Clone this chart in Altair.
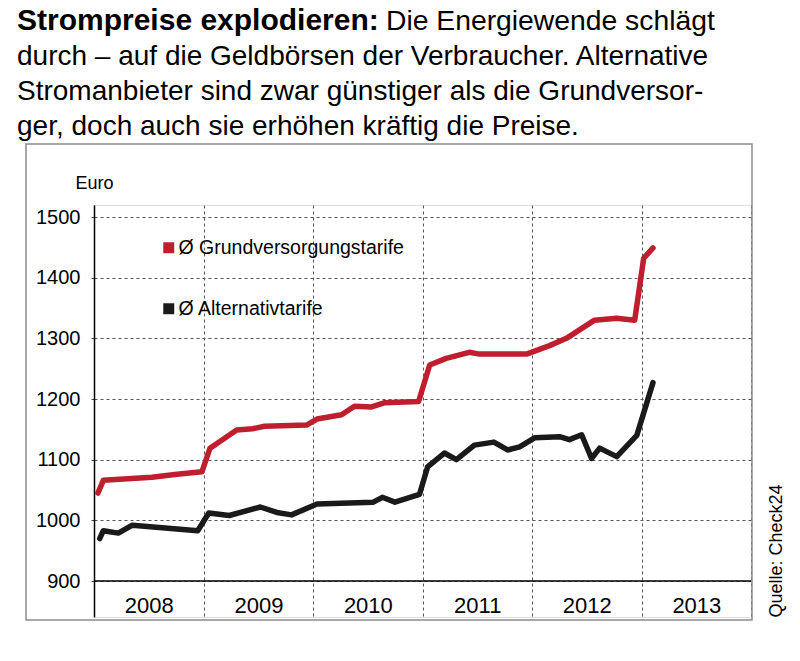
import altair as alt
import pandas as pd

# ---------------- data ----------------
series_names = ["Ø Grundversorgungstarife", "Ø Alternativtarife"]
series_colors = ["#BE1E2D", "#1A1A1A"]

grund_dates = [
    "2008-01-14", "2008-02-01", "2008-07-12", "2008-10-04", "2008-12-26",
    "2009-01-22", "2009-04-21", "2009-06-13", "2009-07-23", "2009-12-10",
    "2010-01-14", "2010-04-06", "2010-05-19", "2010-07-15", "2010-08-28",
    "2010-12-19", "2011-01-25", "2011-03-21", "2011-06-06", "2011-07-10",
    "2011-12-14", "2012-02-29", "2012-04-25", "2012-07-28", "2012-10-10",
    "2012-12-09", "2013-01-08", "2013-02-08",
]
grund_values = [
    1045, 1066, 1071, 1076, 1080,
    1119, 1149, 1151, 1155, 1157,
    1167, 1174, 1188, 1187, 1194,
    1196, 1256, 1267, 1277, 1274,
    1274, 1288, 1300, 1330, 1333,
    1330, 1432, 1449,
]

alt_dates = [
    "2008-01-20", "2008-02-01", "2008-03-22", "2008-05-08", "2008-12-12",
    "2009-01-18", "2009-03-27", "2009-07-09", "2009-09-02", "2009-10-21",
    "2010-01-14", "2010-07-21", "2010-08-20", "2010-10-01", "2010-12-22",
    "2011-01-18", "2011-03-15", "2011-04-24", "2011-06-23", "2011-08-27",
    "2011-10-12", "2011-11-21", "2012-01-10", "2012-04-02", "2012-05-05",
    "2012-06-15", "2012-07-18", "2012-08-14", "2012-10-10", "2012-12-16",
    "2013-02-08",
]
alt_values = [
    970, 983, 979, 992, 983,
    1012, 1008, 1022, 1013, 1009,
    1027, 1030, 1038, 1030, 1043,
    1088, 1111, 1100, 1124, 1129,
    1116, 1121, 1136, 1138, 1133,
    1141, 1102, 1119, 1105, 1140,
    1227,
]

y_ticks = [900, 1000, 1100, 1200, 1300, 1400, 1500]
year_bounds = [2008, 2009, 2010, 2011, 2012, 2013, 2014]

title_bold = "Strompreise explodieren:"
title_line1 = "Die Energiewende schlägt"
title_rest = [
    "durch – auf die Geldbörsen der Verbraucher. Alternative",
    "Stromanbieter sind zwar günstiger als die Grundversor-",
    "ger, doch auch sie erhöhen kräftig die Preise.",
]
y_title = "Euro"
source_note = "Quelle: Check24"

# ---------------- build ----------------
F = "Liberation Sans"
W, H = 657, 412
Y_MIN, Y_MAX = 840.7, 1519.8

df = pd.concat([
    pd.DataFrame({"date": grund_dates, "value": grund_values, "series": series_names[0]}),
    pd.DataFrame({"date": alt_dates, "value": alt_values, "series": series_names[1]}),
], ignore_index=True)

x_enc = alt.X(
    "date:T",
    scale=alt.Scale(type="utc",
                    domain=[alt.DateTime(year=2008, month=1, date=1, utc=True),
                            alt.DateTime(year=2014, month=1, date=1, utc=True)]),
    axis=alt.Axis(
        values=[alt.DateTime(year=y, month=1, date=1, utc=True) for y in year_bounds],
        grid=True, gridDash=[3, 3], gridColor="#555555", gridWidth=1,
        domain=False, ticks=False,
        labelExpr="utcyear(datum.value) < 2014 ? utcFormat(datum.value, '%Y') : ''",
        labelOffset=54.75, labelPadding=-12, labelBaseline="middle",
        labelFont=F, labelFontSize=22, labelColor="black",
        labelOverlap=False, labelFlush=False, labelBound=False,
        title=None,
    ),
)

y_scale = alt.Scale(domain=[Y_MIN, Y_MAX], nice=False, zero=False)
y_enc = alt.Y(
    "value:Q",
    scale=y_scale,
    axis=alt.Axis(
        values=y_ticks, format="d", grid=True, gridDash=[3, 3], gridColor="#555555", gridWidth=1,
        domain=True, domainColor="black", domainWidth=1.5,
        ticks=True, tickSize=6, tickDash=[3, 3], tickColor="#555555",
        labelFont=F, labelFontSize=20, labelPadding=8, labelColor="black",
        title=y_title, titleAngle=0, titleX=-19, titleY=-22,
        titleAlign="left", titleBaseline="middle",
        titleFont=F, titleFontSize=18, titleFontWeight="normal", titleColor="black",
    ),
)

color_scale = alt.Scale(domain=series_names, range=series_colors)

legend = alt.Legend(
    title=None, orient="none", legendX=65, legendY=33, padding=0,
    symbolType="square", symbolSize=30, symbolStrokeWidth=5.5, symbolOpacity=1,
    labelFont=F, labelFontSize=19.5, labelColor="black", labelOffset=0,
    labelLimit=500, rowPadding=33,
)

lines = alt.Chart(df).mark_line(
    strokeWidth=5.5, strokeJoin="round", strokeCap="round"
).encode(
    x=x_enc, y=y_enc,
    color=alt.Color("series:N", scale=color_scale, legend=legend),
)

base_rule = alt.Chart(pd.DataFrame({"v": [y_ticks[0]]})).mark_rule(
    color="black", strokeWidth=1.5
).encode(y=alt.Y("v:Q", scale=y_scale))

frame = alt.Chart(pd.DataFrame({"a": [0]})).mark_rect(
    fill=None, stroke="#8c8c8c", strokeWidth=1.5
).encode(x=alt.value(-68), x2=alt.value(658), y=alt.value(-61), y2=alt.value(415))

t_bold = alt.Chart(pd.DataFrame({"t": [title_bold]})).mark_text(
    font=F, fontSize=30, fontWeight="bold", align="left", baseline="alphabetic", color="black"
).encode(text="t:N", x=alt.value(-77), y=alt.value(-175))

t_l1 = alt.Chart(pd.DataFrame({"t": [title_line1]})).mark_text(
    font=F, fontSize=28.3, align="left", baseline="alphabetic", color="black"
).encode(text="t:N", x=alt.value(292), y=alt.value(-175))

t_rest = alt.Chart(pd.DataFrame({"a": [0]})).mark_text(
    font=F, fontSize=28, align="left", baseline="alphabetic", color="black", lineHeight=35
).encode(text=alt.value(title_rest), x=alt.value(-77), y=alt.value(-140))

src = alt.Chart(pd.DataFrame({"t": [source_note]})).mark_text(
    font=F, fontSize=18, angle=270, align="center", baseline="middle", color="black"
).encode(text="t:N", x=alt.value(683), y=alt.value(346))

chart = alt.layer(frame, base_rule, lines, t_bold, t_l1, t_rest, src).properties(
    width=W, height=H,
    padding={"left": 94, "top": 205, "right": 49, "bottom": 44},
    autosize=alt.AutoSizeParams(type="none"),
).configure_view(stroke=None).configure(background="white")

chart.save("out.html", embed_options={"renderer": "svg", "actions": False})
